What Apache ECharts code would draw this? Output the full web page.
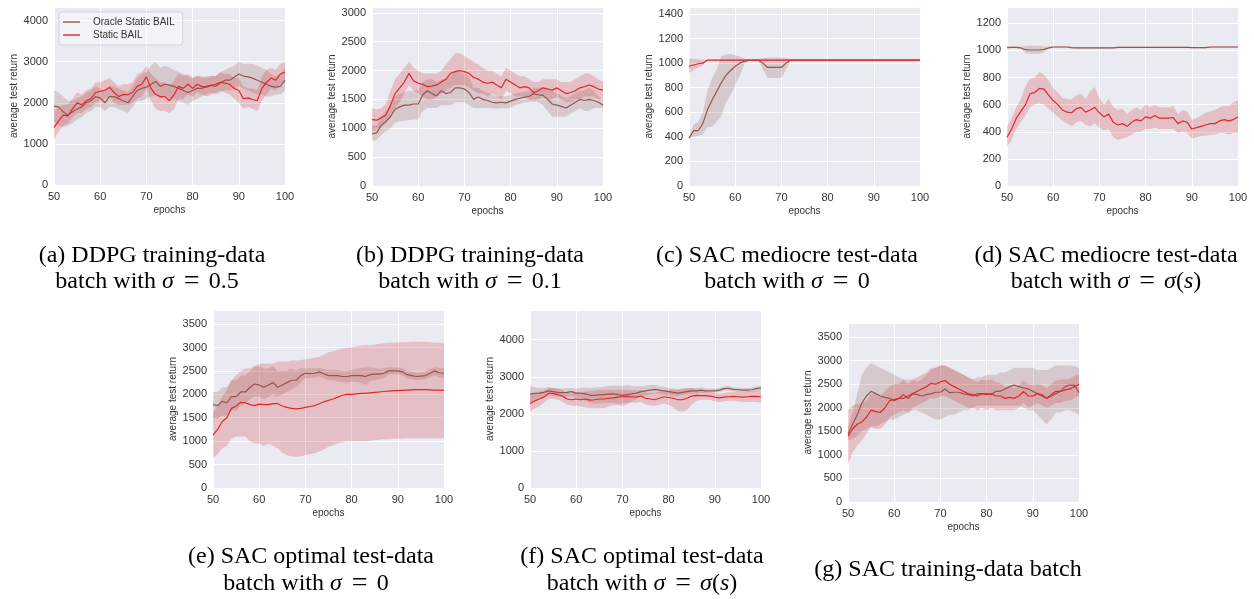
<!DOCTYPE html>
<html><head><meta charset="utf-8">
<script src="https://cdn.jsdelivr.net/npm/echarts@6/dist/echarts.min.js"></script>
<style>html,body{margin:0;padding:0;background:#fff}#c{width:1254px;height:599px}</style>
</head><body><div id="c"></div>
<script>
const EPOCHS = [50,51,52,53,54,55,56,57,58,59,60,61,62,63,64,65,66,67,68,69,70,71,72,73,74,75,76,77,78,79,80,81,82,83,84,85,86,87,88,89,90,91,92,93,94,95,96,97,98,99,100];
const X_TICKS = [50,60,70,80,90,100];
const SERIES_NAMES = ['Oracle Static BAIL','Static BAIL'];

// (a)
const A_STATIC_MEAN = [1400,1560,1700,1680,1850,2000,1950,2050,2100,2250, 2280,2300,2380,2250,2150,2200,2200,2250,2400,2450, 2630,2350,2200,2150,2150,2050,2200,2400,2350,2450, 2350,2450,2400,2380,2420,2450,2500,2480,2450,2350, 2300,2100,2120,2080,2050,2350,2500,2600,2550,2700, 2750];
const A_STATIC_LO = [1100,1300,1450,1500,1650,1750,1750,1850,1900,2000, 2050,2100,2150,2000,1950,1950,1950,2000,2100,2150, 2350,2050,1850,1800,1800,1750,1850,2100,2100,2200, 2150,2250,2200,2150,2200,2250,2300,2250,2200,2100, 2000,1850,1900,1850,1800,2050,2200,2350,2300,2450, 2500];
const A_STATIC_HI = [1800,1900,1950,1950,2100,2250,2200,2300,2350,2500, 2500,2550,2600,2500,2400,2450,2450,2500,2700,2750, 2900,2700,2600,2500,2500,2400,2550,2700,2650,2700, 2600,2650,2650,2600,2650,2650,2750,2700,2700,2600, 2600,2400,2350,2350,2300,2650,2800,2850,2800,2950, 3000];
const A_ORACLE_MEAN = [1920,1900,1780,1700,1780,1850,1900,2000,2050,2150, 2120,2000,2150,2150,2100,2050,2000,2150,2300,2350, 2380,2450,2520,2400,2450,2430,2400,2350,2300,2250, 2300,2350,2350,2400,2430,2400,2480,2550,2550,2620, 2700,2650,2630,2600,2550,2500,2450,2400,2380,2400, 2550];
const A_ORACLE_LO = [1550,1450,1400,1450,1500,1600,1650,1750,1800,1900, 1900,1800,1900,1900,1850,1800,1750,1900,2050,2050, 2100,2150,2200,2100,2150,2100,2100,2050,2000,1950, 2050,2100,2150,2200,2250,2200,2250,2300,2300,2350, 2400,2350,2300,2250,2200,2200,2150,2150,2200,2200, 2300];
const A_ORACLE_HI = [2300,2250,2150,2050,2050,2100,2150,2250,2300,2400, 2350,2250,2400,2400,2350,2300,2250,2400,2600,2700, 2750,2900,3000,2850,2900,2850,2800,2750,2700,2650, 2600,2650,2600,2650,2650,2650,2750,2800,2850,2900, 3000,2950,2950,2950,2900,2850,2800,2700,2650,2700, 2850];

// (b)
const B_STATIC_MEAN = [1150,1140,1180,1230,1400,1600,1700,1800,1950,1820, 1780,1760,1720,1730,1750,1800,1850,1950,1980,2000, 1980,1950,1880,1850,1800,1780,1800,1750,1700,1850, 1800,1750,1700,1720,1700,1620,1650,1700,1680,1660, 1700,1650,1600,1620,1650,1700,1720,1750,1720,1680, 1660];
const B_STATIC_LO = [950,980,1030,1080,1200,1350,1450,1600,1750,1650, 1600,1550,1500,1500,1550,1600,1650,1700,1750,1750, 1750,1700,1650,1600,1600,1550,1600,1550,1500,1650, 1600,1550,1550,1550,1500,1450,1500,1550,1500,1500, 1550,1500,1450,1450,1500,1500,1550,1550,1550,1500, 1500];
const B_STATIC_HI = [1350,1320,1350,1420,1650,1850,1950,2050,2150,2050, 2000,1950,1950,1950,1950,2000,2100,2200,2300,2300, 2250,2200,2150,2100,2050,2000,2000,1950,1900,2050, 2000,1950,1900,1900,1850,1800,1800,1850,1850,1850, 1850,1800,1800,1800,1850,1900,1950,1950,1900,1850, 1800];
const B_ORACLE_MEAN = [900,920,1050,1120,1200,1330,1370,1400,1400,1420, 1420,1580,1650,1600,1560,1650,1600,1620,1700,1700, 1680,1620,1500,1540,1500,1480,1450,1440,1450,1440, 1470,1500,1520,1540,1550,1600,1580,1570,1500,1420, 1400,1380,1350,1400,1450,1500,1480,1500,1480,1450, 1400];
const B_ORACLE_LO = [780,800,880,950,1000,1100,1120,1130,1140,1150, 1150,1300,1350,1350,1350,1400,1400,1400,1450,1450, 1450,1400,1350,1350,1350,1350,1350,1340,1350,1340, 1360,1400,1420,1450,1450,1500,1450,1400,1300,1200, 1200,1200,1200,1250,1300,1350,1300,1300,1350,1350, 1350];
const B_ORACLE_HI = [1050,1050,1200,1300,1400,1550,1600,1620,1650,1650, 1650,1800,1850,1850,1800,1850,1850,1900,2000,2000, 1950,1900,1700,1700,1650,1620,1580,1550,1550,1550, 1580,1600,1620,1630,1650,1700,1700,1700,1700,1650, 1600,1560,1520,1560,1600,1650,1650,1700,1650,1550, 1480];

// (c)
const C_STATIC_MEAN = [975,985,995,1000,1025,1025,1025,1025,1025,1025, 1025,1025,1025,1025,1025,1025,1025,1025,1025,1025, 1025,1025,1025,1025,1025,1025,1025,1025,1025,1025, 1025,1025,1025,1025,1025,1025,1025,1025,1025,1025, 1025,1025,1025,1025,1025,1025,1025,1025,1025,1025, 1025];
const C_STATIC_LO = [920,945,965,980,1020,1020,1020,1020,1020,1020, 1020,1020,1020,1020,1020,1020,1020,1020,1020,1020, 1020,1020,1020,1020,1020,1020,1020,1020,1020,1020, 1020,1020,1020,1020,1020,1020,1020,1020,1020,1020, 1020,1020,1020,1020,1020,1020,1020,1020,1020,1020, 1020];
const C_STATIC_HI = [1040,1035,1030,1028,1030,1030,1030,1030,1030,1030, 1030,1030,1030,1030,1030,1030,1030,1030,1030,1030, 1030,1030,1030,1030,1030,1030,1030,1030,1030,1030, 1030,1030,1030,1030,1030,1030,1030,1030,1030,1030, 1030,1030,1030,1030,1030,1030,1030,1030,1030,1030, 1030];
const C_ORACLE_MEAN = [390,450,450,510,620,700,770,840,900,940, 975,1000,1015,1025,1025,1025,1000,965,965,965, 965,1000,1025,1025,1025,1025,1025,1025,1025,1025, 1025,1025,1025,1025,1025,1025,1025,1025,1025,1025, 1025,1025,1025,1025,1025,1025,1025,1025,1025,1025, 1025];
const C_ORACLE_LO = [385,400,410,420,480,480,520,570,680,740, 820,900,990,1020,1020,1020,950,880,880,880, 880,950,1020,1020,1020,1020,1020,1020,1020,1020, 1020,1020,1020,1020,1020,1020,1020,1020,1020,1020, 1020,1020,1020,1020,1020,1020,1020,1020,1020,1020, 1020];
const C_ORACLE_HI = [400,500,520,600,780,880,950,1060,1070,1075, 1065,1055,1035,1030,1030,1030,1040,1045,1045,1045, 1045,1040,1030,1030,1030,1030,1030,1030,1030,1030, 1030,1030,1030,1030,1030,1030,1030,1030,1030,1030, 1030,1030,1030,1030,1030,1030,1030,1030,1030,1030, 1030];

// (d)
const D_STATIC_MEAN = [360,420,500,550,600,680,690,720,715,670, 630,600,560,545,540,570,580,545,560,580, 540,510,530,470,450,460,440,470,490,480, 510,500,520,500,500,500,505,460,480,470, 420,430,440,450,460,460,480,490,480,490, 510];
const D_STATIC_LO = [290,340,420,470,520,580,600,610,600,570, 540,510,480,460,440,470,480,450,440,460, 430,410,420,360,340,350,360,380,400,400, 420,420,430,420,420,420,420,390,400,390, 350,360,370,370,380,380,390,390,380,390, 390];
const D_STATIC_HI = [440,500,580,640,740,790,800,840,820,780, 720,690,650,640,640,670,680,640,700,730, 650,600,640,580,560,570,530,560,580,560, 600,580,600,580,580,580,590,530,560,550, 490,500,520,540,550,560,580,590,590,620, 630];
const D_ORACLE_MEAN = [1020,1022,1022,1018,1005,1003,1003,1003,1008,1018, 1025,1025,1025,1025,1020,1018,1018,1018,1018,1018, 1018,1018,1018,1018,1022,1022,1022,1022,1022,1022, 1022,1022,1022,1022,1022,1022,1022,1022,1022,1022, 1020,1020,1020,1020,1025,1025,1025,1025,1025,1025, 1025];
const D_ORACLE_LO = [1015,1015,1015,1012,980,975,975,975,985,1010, 1020,1020,1020,1020,1012,1012,1012,1012,1012,1012, 1012,1012,1012,1012,1018,1018,1018,1018,1018,1018, 1018,1018,1018,1018,1018,1018,1018,1018,1018,1018, 1015,1015,1015,1015,1020,1020,1020,1020,1020,1020, 1020];
const D_ORACLE_HI = [1028,1030,1030,1026,1030,1035,1035,1035,1030,1028, 1030,1030,1030,1030,1026,1025,1025,1025,1025,1025, 1025,1025,1025,1025,1027,1027,1027,1027,1027,1027, 1027,1027,1027,1027,1027,1027,1027,1027,1027,1027, 1025,1025,1025,1025,1030,1030,1030,1030,1030,1030, 1030];

// (e)
const E_STATIC_MEAN = [1130,1250,1420,1500,1700,1750,1830,1820,1780,1760, 1790,1780,1780,1800,1800,1750,1720,1700,1690,1700, 1720,1740,1760,1800,1840,1870,1900,1940,1980,2000, 2000,2010,2020,2020,2030,2040,2050,2060,2070,2080, 2080,2085,2090,2095,2100,2100,2100,2095,2090,2090, 2085];
const E_STATIC_LO = [650,720,850,900,1050,1100,1100,1100,1000,950, 950,900,950,900,850,750,700,680,660,680, 700,720,740,780,820,880,920,950,980,1000, 1000,1000,1000,1000,1010,1020,1030,1040,1040,1050, 1050,1050,1060,1060,1060,1060,1060,1060,1060,1060, 1060];
const E_STATIC_HI = [1600,1750,1950,2100,2300,2400,2500,2550,2550,2600, 2650,2650,2650,2650,2700,2700,2700,2720,2720,2730, 2750,2760,2780,2800,2850,2900,2920,2950,2980,3000, 3000,3020,3040,3050,3050,3060,3080,3090,3100,3100, 3110,3110,3110,3120,3120,3120,3120,3110,3100,3100, 3100];
const E_ORACLE_MEAN = [1780,1760,1850,1820,1950,1950,2050,2050,2150,2220, 2200,2150,2200,2250,2150,2200,2250,2300,2300,2400, 2450,2440,2450,2480,2440,2400,2400,2400,2380,2380, 2400,2400,2400,2380,2420,2430,2430,2450,2500,2500, 2500,2480,2420,2400,2380,2390,2400,2450,2500,2460, 2450];
const E_ORACLE_LO = [1500,1480,1550,1550,1650,1650,1750,1800,1900,1950, 1950,1900,1950,2000,1950,2000,2050,2100,2150,2250, 2350,2350,2350,2380,2340,2300,2300,2280,2260,2250, 2270,2260,2250,2200,2280,2300,2320,2350,2420,2430, 2430,2400,2340,2320,2300,2310,2320,2360,2400,2360, 2330];
const E_ORACLE_HI = [2050,2050,2150,2150,2300,2300,2400,2400,2500,2600, 2600,2550,2550,2600,2500,2500,2500,2550,2500,2550, 2550,2550,2550,2560,2540,2520,2520,2520,2500,2500, 2520,2540,2560,2570,2570,2560,2540,2560,2580,2570, 2570,2560,2500,2480,2460,2470,2480,2540,2580,2560, 2560];

// (f)
const F_STATIC_MEAN = [2280,2350,2400,2450,2550,2550,2520,2480,2400,2380, 2400,2380,2400,2370,2380,2400,2400,2420,2430,2450, 2460,2470,2460,2450,2480,2420,2400,2380,2420,2460, 2440,2420,2380,2380,2420,2480,2500,2490,2490,2480, 2450,2430,2450,2460,2470,2460,2450,2460,2470,2470, 2460];
const F_STATIC_LO = [2050,2150,2200,2300,2400,2400,2380,2330,2250,2220, 2220,2200,2180,2150,2150,2150,2160,2200,2230,2260, 2280,2300,2300,2300,2320,2260,2230,2210,2250,2280, 2240,2180,2080,2050,2100,2250,2350,2380,2380,2370, 2340,2320,2340,2350,2350,2330,2320,2320,2320,2320, 2300];
const F_STATIC_HI = [2500,2550,2600,2620,2700,2700,2680,2640,2560,2550, 2580,2560,2600,2620,2620,2650,2650,2650,2640,2650, 2650,2650,2640,2620,2640,2580,2570,2560,2600,2640, 2640,2650,2660,2680,2700,2700,2660,2620,2600,2590, 2560,2540,2560,2580,2590,2590,2580,2600,2610,2620, 2620];
const F_ORACLE_MEAN = [2530,2550,2560,2580,2620,2600,2580,2570,2580,2600, 2560,2560,2540,2500,2500,2510,2520,2530,2540,2520, 2500,2520,2540,2560,2600,2620,2640,2660,2640,2620, 2600,2580,2560,2580,2600,2620,2620,2640,2620,2620, 2620,2640,2680,2690,2660,2650,2640,2640,2650,2680, 2700];
const F_ORACLE_LO = [2300,2380,2420,2450,2500,2480,2460,2450,2460,2480, 2430,2400,2350,2300,2280,2280,2300,2300,2300,2250, 2200,2250,2330,2400,2470,2500,2530,2550,2540,2520, 2500,2490,2480,2500,2520,2540,2540,2560,2560,2570, 2570,2590,2620,2630,2600,2590,2580,2580,2590,2610, 2620];
const F_ORACLE_HI = [2750,2720,2700,2700,2720,2700,2690,2680,2690,2700, 2680,2700,2720,2700,2720,2720,2730,2750,2760,2760, 2760,2780,2760,2740,2740,2760,2780,2780,2750,2730, 2700,2680,2650,2660,2680,2700,2700,2720,2690,2680, 2680,2700,2740,2750,2720,2710,2700,2700,2710,2740, 2760];

// (g)
const G_STATIC_MEAN = [1400,1550,1650,1700,1800,1950,1920,1900,2000,2150, 2180,2200,2280,2200,2300,2350,2400,2450,2520,2500, 2550,2580,2500,2450,2400,2350,2300,2280,2250,2300, 2280,2300,2250,2250,2200,2220,2200,2250,2350,2250, 2250,2300,2250,2200,2280,2350,2350,2380,2400,2450, 2500];
const G_STATIC_LO = [800,1050,1200,1300,1450,1600,1550,1550,1650,1800, 1850,1900,1950,1900,2000,2050,2100,2150,2200,2200, 2250,2250,2200,2150,2100,2050,2000,2000,1950,2000, 1950,2000,1950,1950,1950,1950,1950,2000,2100,2000, 2050,2100,2050,2000,2050,2100,2100,2150,2150,2200, 2250];
const G_STATIC_HI = [1950,2050,2080,2100,2150,2300,2300,2250,2350,2450, 2500,2500,2600,2500,2600,2650,2700,2750,2850,2850, 2900,2900,2850,2800,2750,2700,2650,2600,2550,2600, 2580,2600,2550,2520,2450,2450,2420,2480,2580,2500, 2480,2500,2480,2420,2500,2580,2600,2600,2620,2680, 2700];
const G_ORACLE_MEAN = [1450,1650,1850,2100,2250,2350,2300,2250,2220,2200, 2150,2200,2200,2250,2300,2280,2250,2280,2300,2330, 2330,2400,2320,2330,2330,2300,2280,2250,2300,2300, 2300,2280,2350,2350,2400,2450,2480,2450,2420,2400, 2350,2300,2280,2200,2250,2300,2350,2450,2480,2480, 2320];
const G_ORACLE_LO = [1300,1350,1400,1500,1550,1600,1600,1650,1700,1750, 1750,1800,1850,1900,1950,1950,1900,1850,1800,1750, 1750,1800,1850,1850,1900,1950,1950,2000,2050,2050, 2050,2050,2050,2050,2050,2050,2050,2050,2000,1950, 1950,1850,1750,1650,1750,1900,1900,1950,1950,1900, 1850];
const G_ORACLE_HI = [1600,1900,2300,2700,2850,2950,2900,2850,2800,2750, 2700,2650,2600,2600,2600,2550,2600,2700,2800,2850, 2900,2900,2850,2800,2750,2700,2650,2600,2650,2650, 2700,2700,2700,2750,2750,2800,2850,2850,2850,2850, 2850,2800,2800,2800,2850,2900,2900,2900,2900,2880, 2850];

const Y_TICKS_A = [0,1000,2000,3000,4000];
const Y_TICKS_B = [0,500,1000,1500,2000,2500,3000];
const Y_TICKS_C = [0,200,400,600,800,1000,1200,1400];
const Y_TICKS_D = [0,200,400,600,800,1000,1200];
const Y_TICKS_E = [0,500,1000,1500,2000,2500,3000,3500];
const Y_TICKS_F = [0,1000,2000,3000,4000];
const Y_TICKS_G = [0,500,1000,1500,2000,2500,3000,3500];

const RED = '#e3262b', BROWN = '#9a544e';
const RED_BAND = 'rgba(214,39,40,0.22)', BROWN_BAND = 'rgba(140,86,75,0.22)';

const PANELS = [
  {grid:{left:54,top:7,width:231,height:178}, yMax:4330, yInt:1000, ticks:Y_TICKS_A, oracle:[A_ORACLE_MEAN,A_ORACLE_LO,A_ORACLE_HI], stat:[A_STATIC_MEAN,A_STATIC_LO,A_STATIC_HI]},
  {grid:{left:372,top:7,width:231,height:179}, yMax:3100, yInt:500, ticks:Y_TICKS_B, oracle:[B_ORACLE_MEAN,B_ORACLE_LO,B_ORACLE_HI], stat:[B_STATIC_MEAN,B_STATIC_LO,B_STATIC_HI]},
  {grid:{left:689,top:7,width:231,height:179}, yMax:1457, yInt:200, ticks:Y_TICKS_C, oracle:[C_ORACLE_MEAN,C_ORACLE_LO,C_ORACLE_HI], stat:[C_STATIC_MEAN,C_STATIC_LO,C_STATIC_HI]},
  {grid:{left:1007,top:7,width:231,height:179}, yMax:1320, yInt:200, ticks:Y_TICKS_D, oracle:[D_ORACLE_MEAN,D_ORACLE_LO,D_ORACLE_HI], stat:[D_STATIC_MEAN,D_STATIC_LO,D_STATIC_HI]},
  {grid:{left:213,top:310,width:231,height:178}, yMax:3800, yInt:500, ticks:Y_TICKS_E, oracle:[E_ORACLE_MEAN,E_ORACLE_LO,E_ORACLE_HI], stat:[E_STATIC_MEAN,E_STATIC_LO,E_STATIC_HI]},
  {grid:{left:530,top:310,width:231,height:178}, yMax:4800, yInt:1000, ticks:Y_TICKS_F, oracle:[F_ORACLE_MEAN,F_ORACLE_LO,F_ORACLE_HI], stat:[F_STATIC_MEAN,F_STATIC_LO,F_STATIC_HI]},
  {grid:{left:848,top:323,width:231,height:179}, yMax:3800, yInt:500, ticks:Y_TICKS_G, oracle:[G_ORACLE_MEAN,G_ORACLE_LO,G_ORACLE_HI], stat:[G_STATIC_MEAN,G_STATIC_LO,G_STATIC_HI]}
];

// caption segments: 0 = upright, 1 = italic, 2 = math "=" with wide spacing
const CAPTIONS = [
  {x:152, y:256, segs:[['(a) DDPG training-data',0]]},
  {x:147, y:282, segs:[['batch with ',0],['σ',1],['=',2],['0.5',0]]},
  {x:470, y:256, segs:[['(b) DDPG training-data',0]]},
  {x:470, y:282, segs:[['batch with ',0],['σ',1],['=',2],['0.1',0]]},
  {x:787, y:256, segs:[['(c) SAC mediocre test-data',0]]},
  {x:787, y:282, segs:[['batch with ',0],['σ',1],['=',2],['0',0]]},
  {x:1106, y:256, segs:[['(d) SAC mediocre test-data',0]]},
  {x:1106, y:282, segs:[['batch with ',0],['σ',1],['=',2],['σ',1],['(',0],['s',1],[')',0]]},
  {x:311, y:557, segs:[['(e) SAC optimal test-data',0]]},
  {x:306, y:584, segs:[['batch with ',0],['σ',1],['=',2],['0',0]]},
  {x:642, y:557, segs:[['(f) SAC optimal test-data',0]]},
  {x:642, y:584, segs:[['batch with ',0],['σ',1],['=',2],['σ',1],['(',0],['s',1],[')',0]]},
  {x:948, y:570, segs:[['(g) SAC training-data batch',0]]}
];

const SANS = 'Liberation Sans, Arial, sans-serif';
const SERIF = 'Liberation Serif, Times New Roman, serif';
const TXT = '#333333';
const CAP_SIZE = 24;

const grids = [], xAxes = [], yAxes = [], series = [];

function band(k, name, lo, hi, color) {
  series.push({
    type:'custom', name:name, xAxisIndex:k, yAxisIndex:k, silent:true, z:1, clip:true,
    data: EPOCHS.map((x,i)=>[x, lo[i], hi[i]]),
    encode:{x:0, y:[1,2]},
    renderItem:function(params, api){
      if (params.dataIndex !== 0) return;
      const pts = [];
      for (let i=0;i<EPOCHS.length;i++) pts.push(api.coord([EPOCHS[i], lo[i]]));
      for (let i=EPOCHS.length-1;i>=0;i--) pts.push(api.coord([EPOCHS[i], hi[i]]));
      return {type:'polygon', shape:{points:pts}, style:{fill:color}};
    }
  });
}
function line(k, name, mean, color) {
  series.push({
    type:'line', name:name, xAxisIndex:k, yAxisIndex:k, z:3, clip:true,
    symbol:'none', showSymbol:false, color:color, itemStyle:{color:color},
    lineStyle:{color:color, width:1.2},
    data: EPOCHS.map((x,i)=>[x, mean[i]])
  });
}

PANELS.forEach((p,k)=>{
  grids.push(Object.assign({show:true, backgroundColor:'#EAEAF2', borderWidth:0, containLabel:false}, p.grid));
  xAxes.push({
    type:'value', gridIndex:k, min:X_TICKS[0], max:X_TICKS[X_TICKS.length-1], interval:10,
    name:'epochs', nameLocation:'middle', nameGap:20,
    nameTextStyle:{fontFamily:SANS, fontSize:10, color:TXT},
    axisLine:{show:false}, axisTick:{show:false},
    axisLabel:{fontFamily:SANS, fontSize:11, color:TXT, margin:6},
    splitLine:{show:true, lineStyle:{color:'#ffffff', width:1}}
  });
  yAxes.push({
    type:'value', gridIndex:k, min:p.ticks[0], max:p.yMax, interval:p.yInt,
    name:'average test return', nameLocation:'middle', nameGap:35, nameRotate:90,
    nameTextStyle:{fontFamily:SANS, fontSize:10, color:TXT},
    axisLine:{show:false}, axisTick:{show:false},
    axisLabel:{fontFamily:SANS, fontSize:11, color:TXT, margin:6, showMaxLabel:false,
      formatter:function(v){ return p.ticks.indexOf(v) >= 0 ? String(v) : ''; }},
    splitLine:{show:true, lineStyle:{color:'#ffffff', width:1}}
  });
  band(k, SERIES_NAMES[0]+' band', p.oracle[1], p.oracle[2], BROWN_BAND);
  band(k, SERIES_NAMES[1]+' band', p.stat[1], p.stat[2], RED_BAND);
  line(k, SERIES_NAMES[0], p.oracle[0], BROWN);
  line(k, SERIES_NAMES[1], p.stat[0], RED);
});

const STYLE_KEYS = ['n','i','e'];
const graphics = CAPTIONS.map(c=>({
  type:'text', x:c.x, y:c.y,
  style:{
    text: c.segs.map(s=>'{'+STYLE_KEYS[s[1]]+'|'+s[0]+'}').join(''),
    align:'center', verticalAlign:'middle',
    fontFamily:SERIF, fontSize:CAP_SIZE, fill:'#000',
    rich:{
      n:{fontFamily:SERIF, fontSize:CAP_SIZE, fill:'#000'},
      i:{fontFamily:SERIF, fontSize:CAP_SIZE, fill:'#000', fontStyle:'italic'},
      e:{fontFamily:SERIF, fontSize:CAP_SIZE+4, fill:'#000', padding:[0,9,0,10]}
    }
  }
}));

const chart = echarts.init(document.getElementById('c'), null, {renderer:'canvas'});
chart.setOption({
  animation:false,
  backgroundColor:'#ffffff',
  grid:grids, xAxis:xAxes, yAxis:yAxes, series:series,
  legend:{
    data:[{name:SERIES_NAMES[0], icon:'rect'},{name:SERIES_NAMES[1], icon:'rect'}],
    orient:'vertical', left:59, top:12,
    padding:[5,8,5,4], itemGap:3, itemWidth:17, itemHeight:1.4,
    backgroundColor:'rgba(255,255,255,0.45)', borderColor:'#d2d2da', borderWidth:1, borderRadius:3,
    textStyle:{fontFamily:SANS, fontSize:10, color:TXT, padding:[0,0,0,8]},
    selectedMode:false
  },
  graphic:graphics
});
</script>
</body></html>
